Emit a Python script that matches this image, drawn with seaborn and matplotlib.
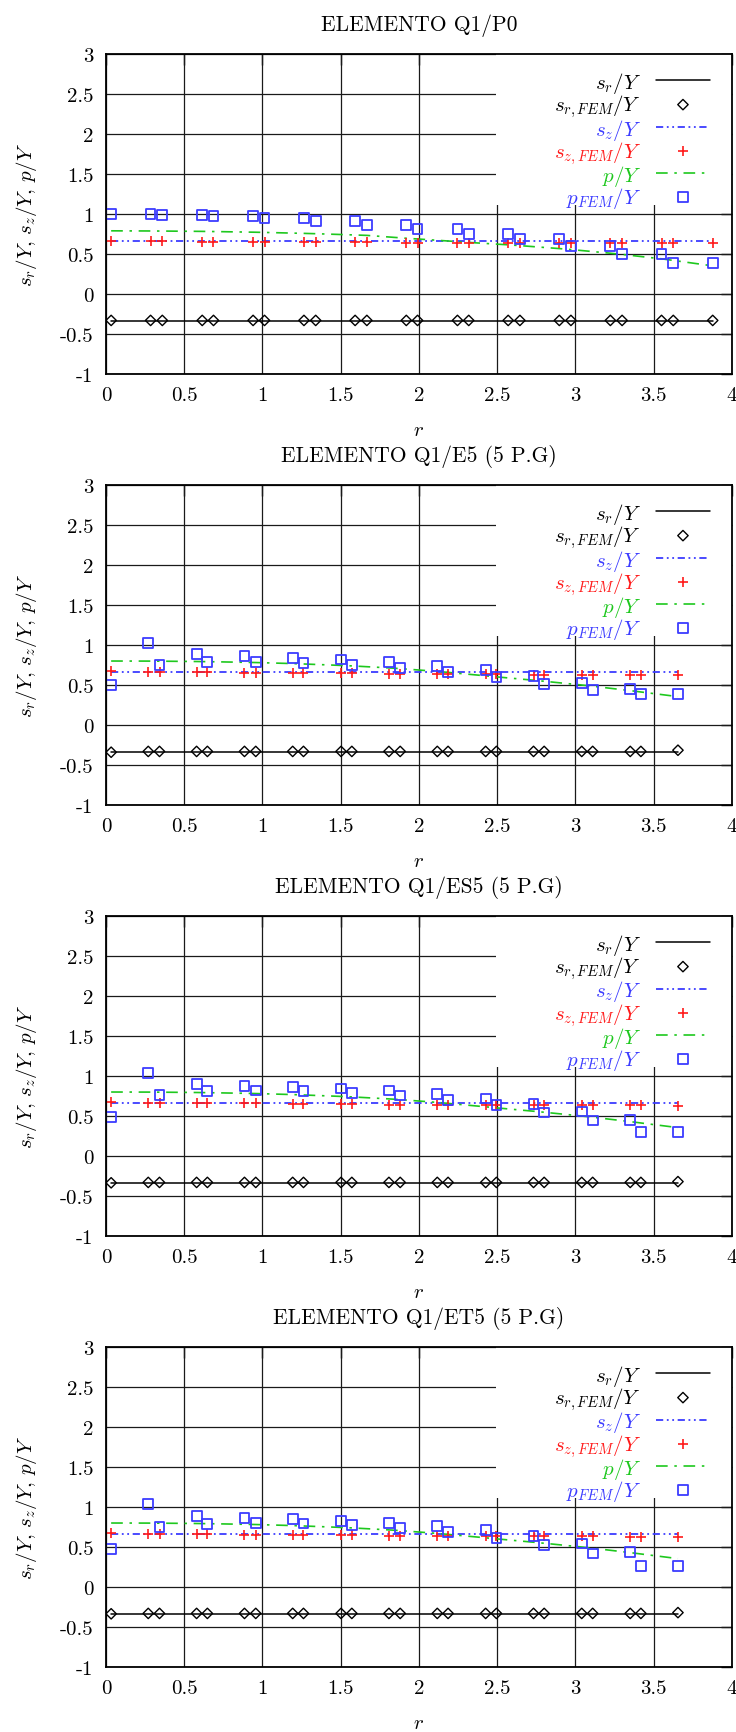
import numpy as np
import pandas as pd
import matplotlib
matplotlib.use("Agg")
import matplotlib.pyplot as plt
from matplotlib.patches import Rectangle
import seaborn as sns

# ---- data ----
titles = ["ELEMENTO Q1/P0", "ELEMENTO Q1/E5 (5 P.G)",
          "ELEMENTO Q1/ES5 (5 P.G)", "ELEMENTO Q1/ET5 (5 P.G)"]

r_p0 = [0.033, 0.285, 0.36, 0.615, 0.687, 0.94, 1.013, 1.265, 1.34, 1.592, 1.667, 1.919,
        1.991, 2.246, 2.318, 2.57, 2.645, 2.897, 2.971, 3.223, 3.298, 3.55, 3.625, 3.877]
r_5pg = [0.033, 0.27, 0.342, 0.579, 0.648, 0.885, 0.957, 1.193, 1.262, 1.502, 1.571, 1.808,
         1.88, 2.117, 2.186, 2.426, 2.495, 2.732, 2.8, 3.04, 3.11, 3.35, 3.418, 3.655]

sr_exact = [-0.333, -0.333]
sz_exact = [0.667, 0.667]

p_exact_p0 = [0.79, 0.788, 0.787, 0.783, 0.781, 0.773, 0.770, 0.758, 0.754, 0.738, 0.733, 0.697,
              0.688, 0.655, 0.645, 0.615, 0.605, 0.568, 0.556, 0.51, 0.495, 0.44, 0.42, 0.352]
p_exact_5pg = [0.800, 0.799, 0.798, 0.794, 0.792, 0.784, 0.781, 0.768, 0.763, 0.745, 0.739, 0.714,
               0.705, 0.670, 0.658, 0.615, 0.602, 0.560, 0.547, 0.500, 0.485, 0.430, 0.413, 0.355]

sr_fem_p0 = [-0.33, -0.33, -0.33, -0.33, -0.33, -0.33, -0.33, -0.33, -0.33, -0.33, -0.33, -0.33,
             -0.33, -0.33, -0.33, -0.33, -0.33, -0.33, -0.33, -0.33, -0.33, -0.33, -0.33, -0.33]
sr_fem_e5 = [-0.34, -0.33, -0.33, -0.33, -0.33, -0.33, -0.33, -0.33, -0.33, -0.33, -0.33, -0.33,
             -0.33, -0.33, -0.33, -0.33, -0.33, -0.33, -0.33, -0.33, -0.33, -0.33, -0.33, -0.315]
sr_fem_es5 = [-0.335, -0.33, -0.33, -0.33, -0.33, -0.33, -0.33, -0.33, -0.33, -0.33, -0.33, -0.33,
              -0.33, -0.33, -0.33, -0.33, -0.33, -0.33, -0.33, -0.33, -0.33, -0.33, -0.33, -0.32]
sr_fem_et5 = [-0.335, -0.33, -0.33, -0.33, -0.33, -0.33, -0.33, -0.33, -0.33, -0.33, -0.33, -0.33,
              -0.33, -0.33, -0.33, -0.33, -0.33, -0.33, -0.33, -0.33, -0.33, -0.33, -0.33, -0.32]

sz_fem_p0 = [0.658, 0.658, 0.658, 0.654, 0.654, 0.654, 0.654, 0.646, 0.646, 0.646, 0.646, 0.642,
             0.642, 0.642, 0.642, 0.642, 0.64, 0.642, 0.64, 0.642, 0.638, 0.64, 0.636, 0.642]
sz_fem_e5 = [0.675, 0.665, 0.665, 0.66, 0.66, 0.655, 0.655, 0.65, 0.65, 0.645, 0.645, 0.64,
             0.64, 0.635, 0.635, 0.635, 0.635, 0.63, 0.63, 0.63, 0.63, 0.63, 0.63, 0.625]
sz_fem_es5 = [0.678, 0.668, 0.668, 0.662, 0.662, 0.657, 0.657, 0.65, 0.65, 0.645, 0.645, 0.64,
              0.64, 0.636, 0.636, 0.636, 0.636, 0.632, 0.632, 0.632, 0.632, 0.632, 0.632, 0.63]
sz_fem_et5 = [0.676, 0.666, 0.666, 0.66, 0.66, 0.655, 0.655, 0.65, 0.65, 0.645, 0.645, 0.64,
              0.64, 0.636, 0.636, 0.636, 0.636, 0.632, 0.632, 0.632, 0.632, 0.63, 0.63, 0.628]

p_fem_p0 = [1.0, 1.0, 0.99, 0.99, 0.975, 0.975, 0.95, 0.95, 0.91, 0.91, 0.867, 0.867,
            0.81, 0.81, 0.75, 0.746, 0.683, 0.683, 0.596, 0.596, 0.5, 0.496, 0.39, 0.386]
p_fem_e5 = [0.5, 1.03, 0.75, 0.8875, 0.79, 0.8625, 0.79, 0.84, 0.78, 0.82, 0.754, 0.7875,
            0.717, 0.742, 0.6625, 0.6875, 0.596, 0.617, 0.5125, 0.529, 0.4375, 0.446, 0.39, 0.39]
p_fem_es5 = [0.49, 1.04, 0.76, 0.90, 0.81, 0.88, 0.82, 0.86, 0.81, 0.845, 0.79, 0.82,
             0.757, 0.774, 0.703, 0.72, 0.636, 0.648, 0.544, 0.556, 0.443, 0.452, 0.297, 0.297]
p_fem_et5 = [0.479, 1.033, 0.75, 0.887, 0.79, 0.866, 0.80, 0.85, 0.795, 0.829, 0.775, 0.80,
             0.741, 0.762, 0.691, 0.708, 0.616, 0.633, 0.529, 0.545, 0.42, 0.433, 0.266, 0.266]

xticks = [0, 0.5, 1, 1.5, 2, 2.5, 3, 3.5, 4]
xtick_labels = ["0", "0.5", "1", "1.5", "2", "2.5", "3", "3.5", "4"]
yticks = [-1, -0.5, 0, 0.5, 1, 1.5, 2, 2.5, 3]
ytick_labels = ["-1", "-0.5", "0", "0.5", "1", "1.5", "2", "2.5", "3"]

legend_labels = [r"$s_r/Y$", r"$s_{r,FEM}/Y$", r"$s_z/Y$", r"$s_{z,FEM}/Y$", r"$p/Y$", r"$p_{FEM}/Y$"]

panels = [
    (r_p0, sr_fem_p0, sz_fem_p0, p_exact_p0, p_fem_p0),
    (r_5pg, sr_fem_e5, sz_fem_e5, p_exact_5pg, p_fem_e5),
    (r_5pg, sr_fem_es5, sz_fem_es5, p_exact_5pg, p_fem_es5),
    (r_5pg, sr_fem_et5, sz_fem_et5, p_exact_5pg, p_fem_et5),
]

# ---- style ----
sns.set_theme(style="white")
plt.rcParams["font.family"] = ["cmr10", "DejaVu Serif"]
plt.rcParams["mathtext.fontset"] = "cm"
plt.rcParams["axes.unicode_minus"] = False
plt.rcParams["axes.formatter.use_mathtext"] = True

BLACK = "#000000"
BLUE = "#3c3cff"
RED = "#ff1a1a"
GREEN = "#1ec81e"
label_colors = [BLACK, BLACK, BLUE, RED, GREEN, BLUE]

fig = plt.figure(figsize=(7.36, 17.33), dpi=100)
bottoms = [0.7836, 0.5349, 0.2862, 0.0375]

for bottom, title, (r, sr_fem, sz_fem, p_exact, p_fem) in zip(bottoms, titles, panels):
    ax = fig.add_axes([0.144, bottom, 0.8505, 0.18465])
    ax.set_xlim(0, 4)
    ax.set_ylim(-1, 3)

    # grid lines drawn under a white box that holds the key
    ax.hlines(yticks, 0, 4, color="#1a1a1a", lw=0.9, zorder=0.8)
    ax.vlines(xticks, -1, 3, color="#1a1a1a", lw=0.9, zorder=0.8)
    ax.add_patch(Rectangle((2.49, 1.11), 1.51, 1.89, facecolor="white", edgecolor="none", zorder=1))

    ends = [r[0], r[-1]]
    sns.lineplot(x=ends, y=sr_exact, color=BLACK, lw=1.1, sort=False, estimator=None,
                 label=legend_labels[0], ax=ax, zorder=3)
    sns.scatterplot(x=r, y=sr_fem, marker="D", s=28, facecolor="none", edgecolor=BLACK,
                    linewidth=1.0, label=legend_labels[1], ax=ax, zorder=4)
    sns.lineplot(x=ends, y=sz_exact, color=BLUE, lw=1.3, sort=False, estimator=None,
                 label=legend_labels[2], ax=ax, zorder=3)
    ax.lines[-1].set_dashes([4, 2, 1, 2, 1, 2])
    sns.scatterplot(x=r, y=sz_fem, marker="+", s=55, color=RED, linewidth=1.2,
                    label=legend_labels[3], ax=ax, zorder=4)
    sns.lineplot(x=r, y=p_exact, color=GREEN, lw=1.2, sort=False, estimator=None,
                 label=legend_labels[4], ax=ax, zorder=3)
    ax.lines[-1].set_dashes([7, 4, 1.5, 4])
    sns.scatterplot(x=r, y=p_fem, marker="s", s=50, facecolor="none", edgecolor=BLUE,
                    linewidth=1.3, label=legend_labels[5], ax=ax, zorder=4)

    handles, labels = ax.get_legend_handles_labels()
    leg = ax.legend(handles, labels, loc="upper right", bbox_to_anchor=(0.965, 0.95),
                    frameon=False, markerfirst=False, fontsize=15, handlelength=2.6,
                    handleheight=0.8, handletextpad=0.7, labelspacing=-0.13,
                    borderpad=0, borderaxespad=0)
    for txt, c in zip(leg.get_texts(), label_colors):
        txt.set_color(c)

    ax.set_xticks(xticks)
    ax.set_xticklabels(xtick_labels)
    ax.set_yticks(yticks)
    ax.set_yticklabels(ytick_labels)
    ax.tick_params(direction="in", length=8, width=1, color=BLACK, labelsize=15, pad=9,
                   top=True, right=True, labelcolor=BLACK)
    for sp in ax.spines.values():
        sp.set_color(BLACK)
        sp.set_linewidth(1.3)
        sp.set_zorder(5)

    ax.set_title(title, fontsize=15.5, pad=17, color=BLACK)
    ax.set_xlabel(r"$r$", fontsize=15, labelpad=12, color=BLACK)
    ax.set_ylabel(r"$s_r/Y,\, s_z/Y,\, p/Y$", fontsize=15, labelpad=15, color=BLACK)

fig.savefig("out.png", dpi=100)
